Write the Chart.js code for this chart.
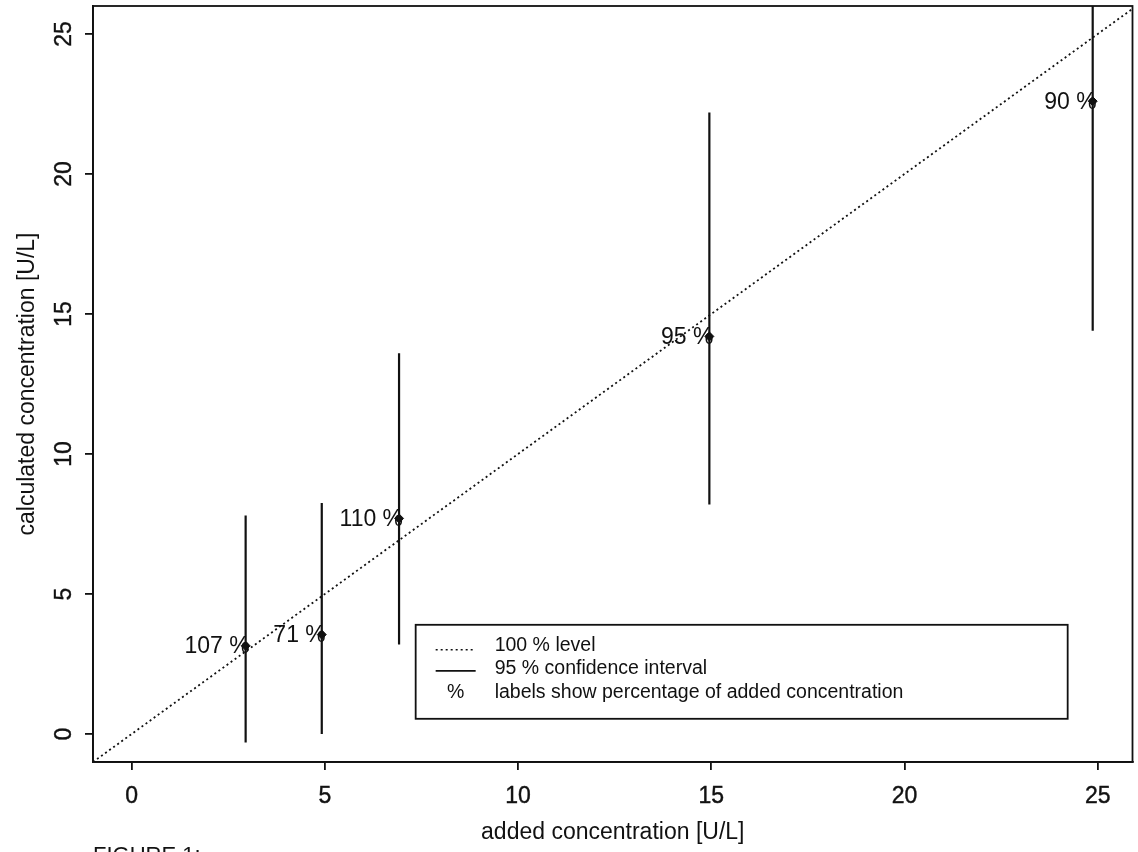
<!DOCTYPE html>
<html>
<head>
<meta charset="utf-8">
<script src="https://cdn.jsdelivr.net/npm/chart.js@4"></script>
<style>
  body { margin: 0; background: #fff; }
  #wrap { width: 1138px; height: 852px; position: relative; }
</style>
</head>
<body>
<div id="wrap"><canvas id="recovery"></canvas></div>
<script>
// Recovery plot: calculated vs added concentration with 95 % intervals
var addedX = [2.95, 4.92, 6.92, 14.95, 24.87];
var calcY = [3.15, 3.55, 7.7, 14.2, 22.6];
var ciLow = [-0.3, 0.0, 3.2, 8.2, 14.4];
var ciHigh = [7.8, 8.25, 13.6, 22.2, 26.5];
var pctLabels = ['107 %', '71 %', '110 %', '95 %', '90 %'];
var diagX = [-1, 27];
var diagY = [-1, 27];
var xTicks = [0, 5, 10, 15, 20, 25];
var yTicks = [0, 5, 10, 15, 20, 25];
var legendItems = ['100 % level', '95 % confidence interval', 'labels show percentage of added concentration'];

var FONT = '"Liberation Sans", Arial, Helvetica, sans-serif';
var INK = '#111';

var datasets = [];
datasets.push({
  type: 'line',
  data: diagX.map(function(x, i) { return { x: x, y: diagY[i] }; }),
  borderColor: INK, borderWidth: 1.8, borderDash: [2, 3],
  pointRadius: 0, fill: false
});
addedX.forEach(function(x, i) {
  datasets.push({
    type: 'line',
    data: [{ x: x, y: ciLow[i] }, { x: x, y: ciHigh[i] }],
    borderColor: INK, borderWidth: 2.2, pointRadius: 0, fill: false
  });
});
datasets.push({
  type: 'scatter',
  data: addedX.map(function(x, i) { return { x: x, y: calcY[i] }; }),
  pointStyle: 'rectRot', pointRadius: 4.5,
  backgroundColor: INK, borderColor: INK, borderWidth: 1
});
var POINTS = datasets.length - 1;

function keepTicks(list) {
  return function(scale) {
    scale.ticks = list.map(function(v) { return { value: v }; });
  };
}

// box round the plot, point labels, legend and the caption fragment
var extras = {
  id: 'extras',
  afterDatasetsDraw: function(chart) {
    var c = chart.ctx, a = chart.chartArea;
    var xs = chart.scales.x, ys = chart.scales.y;
    c.save();
    c.strokeStyle = INK;
    c.lineWidth = 1.8;
    c.strokeRect(a.left, a.top, a.right - a.left, a.bottom - a.top);

    c.fillStyle = INK;
    c.font = '23px ' + FONT;
    c.textAlign = 'right';
    c.textBaseline = 'middle';
    chart.getDatasetMeta(POINTS).data.forEach(function(el, i) {
      c.fillText(pctLabels[i], el.x + 4, el.y + 1);
    });

    // legend box anchored in data coordinates
    var lx = xs.getPixelForValue(7.35), ly = ys.getPixelForValue(3.9);
    var w = 652, h = 94;
    c.fillStyle = '#fff';
    c.fillRect(lx, ly, w, h);
    c.lineWidth = 1.8;
    c.strokeRect(lx, ly, w, h);
    c.fillStyle = INK;
    c.font = '19.5px ' + FONT;
    c.textAlign = 'left';
    var rows = [ly + 21, ly + 44, ly + 68];
    legendItems.forEach(function(t, i) {
      c.fillText(t, lx + 79, rows[i]);
    });
    c.beginPath();
    c.setLineDash([2, 3]);
    c.lineWidth = 1.5;
    c.moveTo(lx + 20, rows[0] + 4); c.lineTo(lx + 60, rows[0] + 4);
    c.stroke();
    c.setLineDash([]);
    c.beginPath();
    c.lineWidth = 1.8;
    c.moveTo(lx + 20, rows[1] + 2); c.lineTo(lx + 60, rows[1] + 2);
    c.stroke();
    c.textAlign = 'center';
    c.fillText('%', lx + 40, rows[2]);

    c.font = '22px ' + FONT;
    c.textAlign = 'left';
    c.textBaseline = 'top';
    c.fillText('FIGURE 1:', 93, 845);
    c.restore();
  }
};

new Chart(document.getElementById('recovery'), {
  type: 'scatter',
  data: { datasets: datasets },
  options: {
    responsive: true, maintainAspectRatio: false, animation: false,
    layout: { padding: { top: 6, right: 1, left: 0, bottom: 0 } },
    plugins: { legend: { display: false }, tooltip: { enabled: false } },
    scales: {
      x: {
        type: 'linear', position: 'bottom', min: -1, max: 25.9,
        afterBuildTicks: keepTicks(xTicks),
        afterFit: function(s) { s.height = 90; s.paddingLeft = 0; s.paddingRight = 0; },
        grid: { drawOnChartArea: false, drawTicks: true, tickLength: 8, color: INK, lineWidth: 1.8 },
        border: { display: true, color: INK, width: 1.8 },
        ticks: { color: INK, padding: 13, font: { family: FONT, size: 23 }, maxRotation: 0,
          textStrokeColor: INK, textStrokeWidth: 0.4 },
        title: { display: true, text: 'added concentration [U/L]', color: INK,
          font: { family: FONT, size: 23 }, padding: { top: 0, bottom: 6 } }
      },
      y: {
        type: 'linear', position: 'left', min: -1, max: 26,
        afterBuildTicks: keepTicks(yTicks),
        afterFit: function(s) { s.width = 93; s.paddingTop = 0; s.paddingBottom = 0; },
        grid: { drawOnChartArea: false, drawTicks: true, tickLength: 8, color: INK, lineWidth: 1.8 },
        border: { display: true, color: INK, width: 1.8 },
        ticks: { color: INK, padding: 8, minRotation: 90, maxRotation: 90, crossAlign: 'center',
          font: { family: FONT, size: 23 }, textStrokeColor: INK, textStrokeWidth: 0.4 },
        title: { display: true, text: 'calculated concentration [U/L]', color: INK,
          font: { family: FONT, size: 23 }, padding: { top: 14, bottom: 0 } }
      }
    }
  },
  plugins: [extras]
});
</script>
</body>
</html>
